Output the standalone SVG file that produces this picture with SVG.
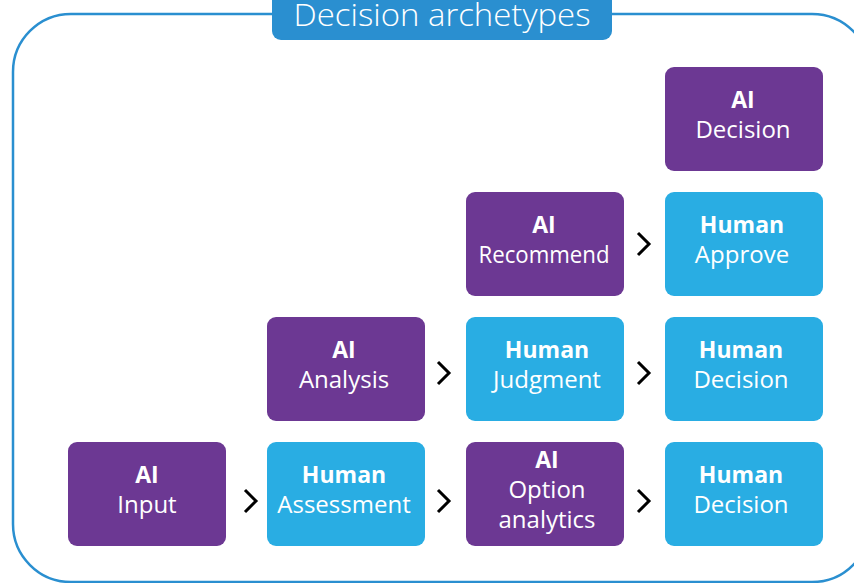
<svg xmlns="http://www.w3.org/2000/svg" width="854" height="583" viewBox="0 0 854 583">
<style>
.frame{fill:none;stroke:#2a8fd0;stroke-width:2.5}
.ai{fill:#6c3893}
.hu{fill:#29ade3}
.t{font-family:"Open Sans","DejaVu Sans",sans-serif;font-size:24px;fill:#fff;text-anchor:middle}
.b{font-weight:700;font-size:23px}
.chev{fill:none;stroke:#000;stroke-width:3;stroke-linecap:butt;stroke-linejoin:miter}
</style>
<rect width="854" height="583" fill="#fff"/>
<rect class="frame" x="13" y="14" width="857" height="568" rx="58"/>
<g id="title">
<rect x="272" y="-12" width="340" height="52" rx="9" fill="#2a8fd0"/>
<text x="442" y="26" font-family="'Open Sans','DejaVu Sans',sans-serif" font-size="31" font-weight="300" fill="#fff" text-anchor="middle" textLength="297" lengthAdjust="spacingAndGlyphs">Decision archetypes</text>
</g>
<g id="connectors">
<path class="chev" d="M245 490 L256 501 L245 512"/>
<path class="chev" d="M438 490 L449 501 L438 512"/>
<path class="chev" d="M638 490 L649 501 L638 512"/>
<path class="chev" d="M438 362 L449 373 L438 384"/>
<path class="chev" d="M638 362 L649 373 L638 384"/>
<path class="chev" d="M638 233 L649 244 L638 255"/>
</g>
<g id="ai-decision">
<rect class="ai" x="665" y="67" width="158" height="104" rx="9"/>
<text class="t b" x="743" y="108">AI</text>
<text class="t" x="743" y="138">Decision</text>
</g>
<g id="ai-recommend">
<rect class="ai" x="466" y="192" width="158" height="104" rx="9"/>
<text class="t b" x="544" y="233">AI</text>
<text class="t" x="544" y="263" textLength="131" lengthAdjust="spacingAndGlyphs">Recommend</text>
</g>
<g id="human-approve">
<rect class="hu" x="665" y="192" width="158" height="104" rx="9"/>
<text class="t b" x="742" y="233">Human</text>
<text class="t" x="742" y="263">Approve</text>
</g>
<g id="ai-analysis">
<rect class="ai" x="267" y="317" width="158" height="104" rx="9"/>
<text class="t b" x="344" y="358">AI</text>
<text class="t" x="344" y="388">Analysis</text>
</g>
<g id="human-judgment">
<rect class="hu" x="466" y="317" width="158" height="104" rx="9"/>
<text class="t b" x="547" y="358">Human</text>
<text class="t" x="547" y="388">Judgment</text>
</g>
<g id="human-decision-3">
<rect class="hu" x="665" y="317" width="158" height="104" rx="9"/>
<text class="t b" x="741" y="358">Human</text>
<text class="t" x="741" y="388">Decision</text>
</g>
<g id="ai-input">
<rect class="ai" x="68" y="442" width="158" height="104" rx="9"/>
<text class="t b" x="147" y="483">AI</text>
<text class="t" x="147" y="513">Input</text>
</g>
<g id="human-assessment">
<rect class="hu" x="267" y="442" width="158" height="104" rx="9"/>
<text class="t b" x="344" y="483">Human</text>
<text class="t" x="344" y="513">Assessment</text>
</g>
<g id="ai-option-analytics">
<rect class="ai" x="466" y="442" width="158" height="104" rx="9"/>
<text class="t b" x="547" y="468">AI</text>
<text class="t" x="547" y="498">Option</text>
<text class="t" x="547" y="528">analytics</text>
</g>
<g id="human-decision-4">
<rect class="hu" x="665" y="442" width="158" height="104" rx="9"/>
<text class="t b" x="741" y="483">Human</text>
<text class="t" x="741" y="513">Decision</text>
</g>
</svg>
